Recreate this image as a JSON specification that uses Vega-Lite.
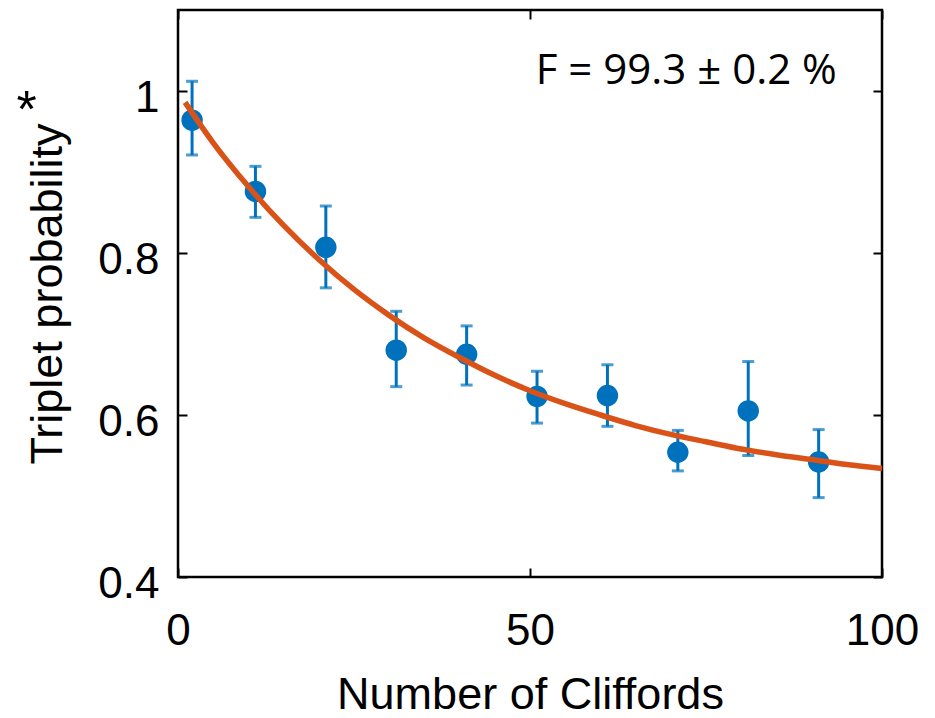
{
  "$schema": "https://vega.github.io/schema/vega-lite/v6.json",
  "width": 704,
  "height": 567,
  "autosize": {"type": "none"},
  "padding": {"left": 178, "top": 10, "right": 53, "bottom": 141},
  "background": "white",
  "config": {
    "view": {"stroke": "black", "strokeWidth": 2.5},
    "font": "Liberation Sans",
    "axis": {
      "grid": false,
      "domain": false,
      "tickColor": "black",
      "tickWidth": 2,
      "tickSize": -9,
      "labelFont": "Liberation Sans",
      "labelFontSize": 44,
      "labelColor": "black",
      "titleFont": "Liberation Sans",
      "titleFontSize": 45,
      "titleFontWeight": "normal",
      "titleColor": "black",
      "labelOverlap": false,
      "labelFlush": false
    },
    "axisTop": {"labels": false},
    "axisRight": {"labels": false}
  },
  "datasets": {
    "points": [
      {"n": 2, "p": 0.964, "lo": 0.921, "hi": 1.012},
      {"n": 11, "p": 0.876, "lo": 0.844, "hi": 0.907},
      {"n": 21, "p": 0.807, "lo": 0.757, "hi": 0.858},
      {"n": 31, "p": 0.680, "lo": 0.635, "hi": 0.728},
      {"n": 41, "p": 0.675, "lo": 0.637, "hi": 0.710},
      {"n": 51, "p": 0.623, "lo": 0.590, "hi": 0.654},
      {"n": 61, "p": 0.624, "lo": 0.586, "hi": 0.662},
      {"n": 71, "p": 0.554, "lo": 0.531, "hi": 0.581},
      {"n": 81, "p": 0.605, "lo": 0.550, "hi": 0.666},
      {"n": 91, "p": 0.542, "lo": 0.498, "hi": 0.582}
    ],
    "fit": [
      {"n": 1, "p": 0.986},
      {"n": 5, "p": 0.936},
      {"n": 10, "p": 0.882},
      {"n": 15, "p": 0.834},
      {"n": 20, "p": 0.792},
      {"n": 25, "p": 0.755},
      {"n": 30, "p": 0.723},
      {"n": 35, "p": 0.695},
      {"n": 40, "p": 0.671},
      {"n": 45, "p": 0.649},
      {"n": 50, "p": 0.630},
      {"n": 55, "p": 0.614},
      {"n": 60, "p": 0.600},
      {"n": 65, "p": 0.587},
      {"n": 70, "p": 0.576},
      {"n": 75, "p": 0.567},
      {"n": 80, "p": 0.558},
      {"n": 85, "p": 0.551},
      {"n": 90, "p": 0.545},
      {"n": 95, "p": 0.539},
      {"n": 100, "p": 0.534}
    ],
    "notes": [
      {"n": 72.2, "p": 1.0086, "label": "F = 99.3 ± 0.2 %"}
    ],
    "star": [
      {"n": -21.5, "p": 0.9556, "label": "*"}
    ]
  },
  "layer": [
    {
      "data": {"name": "points"},
      "mark": {"type": "errorbar", "thickness": 3, "size": 12, "color": "#0072BD", "ticks": true},
      "encoding": {
        "x": {"field": "n", "type": "quantitative", "scale": {"domain": [0, 100]},
              "axis": {"orient": "bottom", "values": [0, 50, 100], "title": "Number of Cliffords", "labelPadding": 41, "titlePadding": 19}},
        "y": {"field": "lo", "type": "quantitative", "scale": {"domain": [0.4, 1.1]},
              "axis": {"orient": "left", "values": [0.4, 0.6, 0.8, 1], "format": "~g", "title": "Triplet probability", "labelPadding": 28, "titlePadding": 27, "labelOffset": 7}},
        "y2": {"field": "hi"}
      }
    },
    {
      "data": {"name": "points"},
      "mark": {"type": "point", "shape": "circle", "filled": true, "size": 460, "color": "#0072BD", "opacity": 1},
      "encoding": {
        "x": {"field": "n", "type": "quantitative", "axis": null},
        "y": {"field": "p", "type": "quantitative", "axis": null}
      }
    },
    {
      "data": {"name": "fit"},
      "mark": {"type": "line", "color": "#D95319", "strokeWidth": 5.5, "interpolate": "monotone"},
      "encoding": {
        "x": {"field": "n", "type": "quantitative",
              "axis": {"orient": "top", "values": [0, 50, 100], "labels": false, "title": null}},
        "y": {"field": "p", "type": "quantitative",
              "axis": {"orient": "right", "values": [0.4, 0.6, 0.8, 1], "labels": false, "title": null}}
      }
    },
    {
      "data": {"name": "notes"},
      "mark": {"type": "text", "font": "Open Sans", "fontSize": 42, "align": "center", "baseline": "alphabetic", "color": "black"},
      "encoding": {
        "x": {"field": "n", "type": "quantitative", "axis": null},
        "y": {"field": "p", "type": "quantitative", "axis": null},
        "text": {"field": "label"}
      }
    },
    {
      "data": {"name": "star"},
      "mark": {"type": "text", "font": "Liberation Sans", "fontSize": 52, "align": "center", "baseline": "alphabetic", "color": "black"},
      "encoding": {
        "x": {"field": "n", "type": "quantitative", "axis": null},
        "y": {"field": "p", "type": "quantitative", "axis": null},
        "text": {"field": "label"}
      }
    }
  ]
}
